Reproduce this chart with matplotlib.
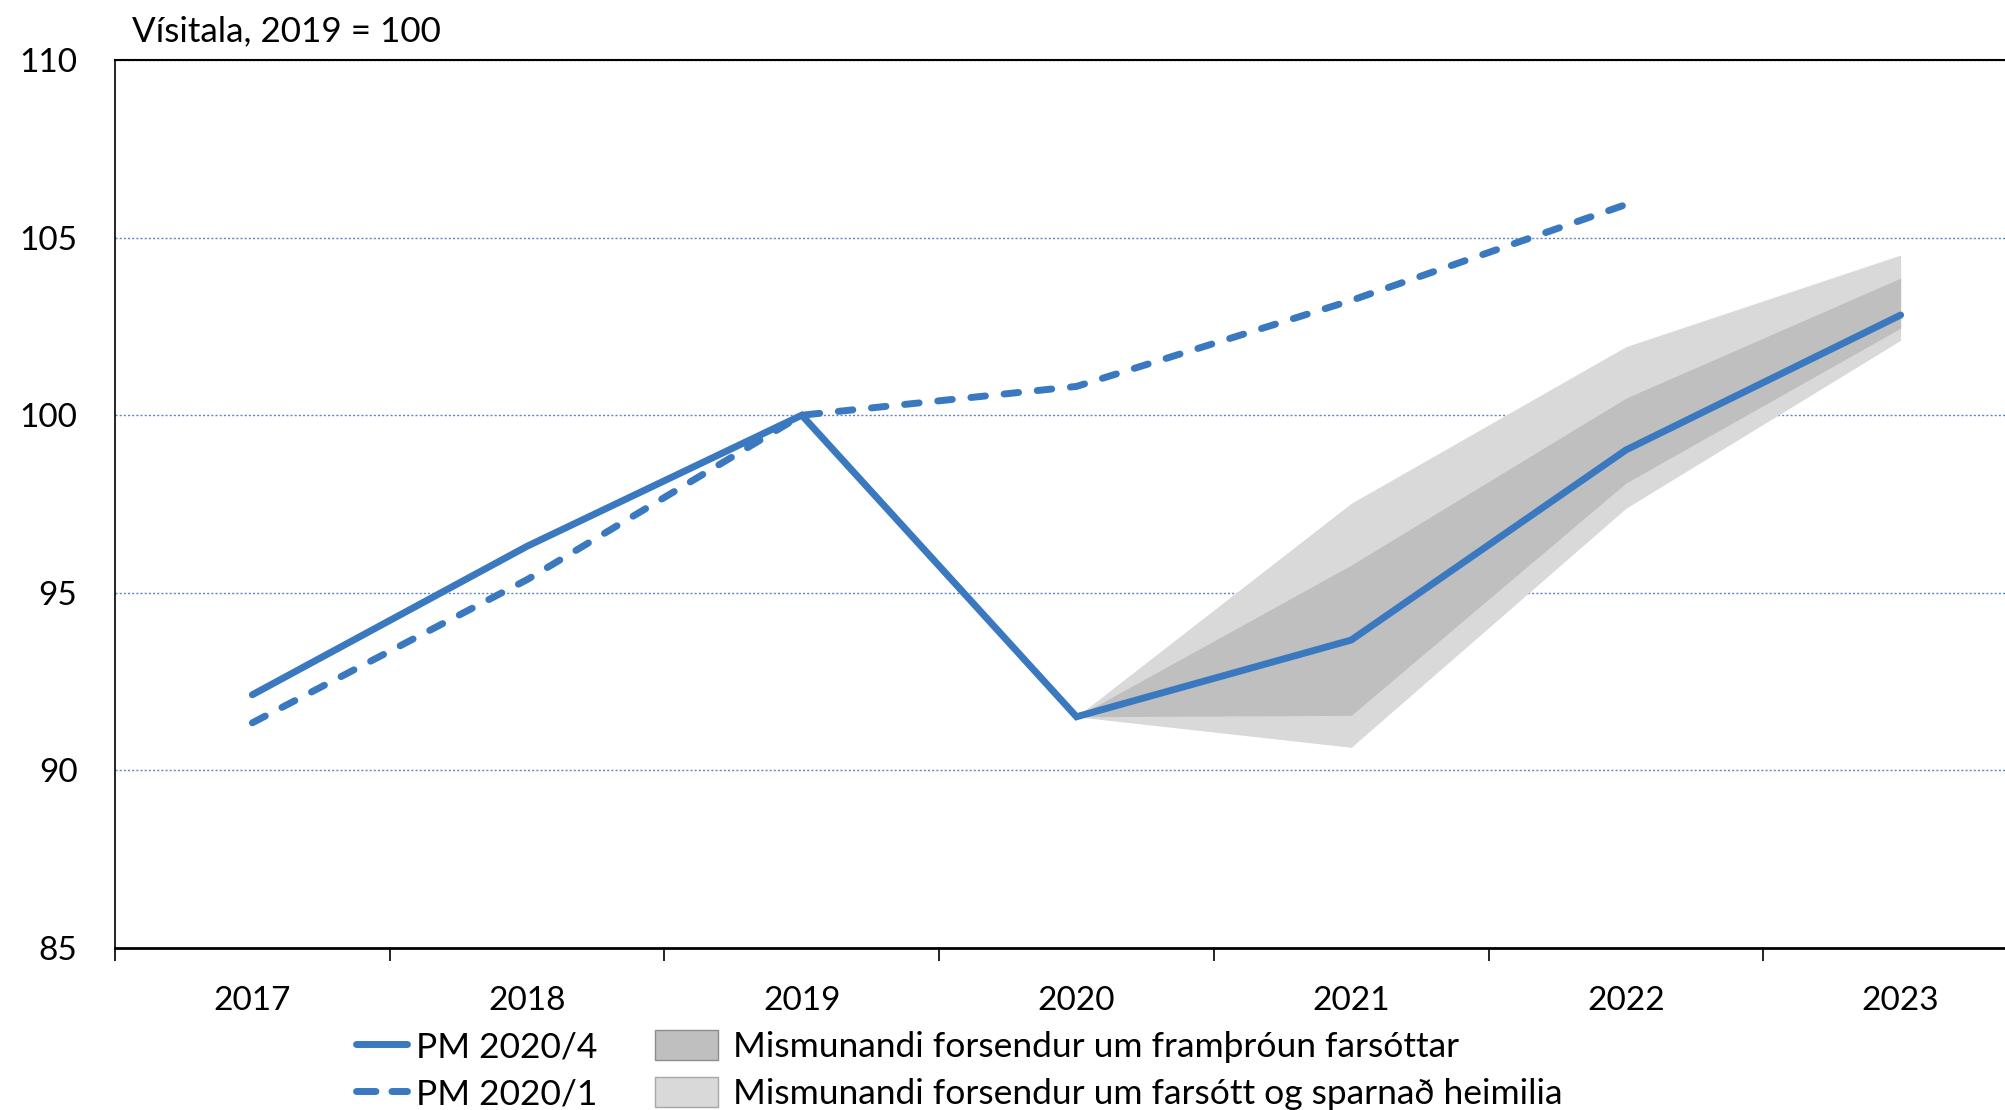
import matplotlib
matplotlib.use("Agg")
import matplotlib.pyplot as plt
from matplotlib.patches import Patch, Rectangle
from matplotlib.lines import Line2D
from matplotlib.legend_handler import HandlerLine2D, HandlerPatch
import numpy as np

plt.rcParams['font.family'] = ['Lato', 'DejaVu Sans']
plt.rcParams['lines.scale_dashes'] = False

years = ["2017", "2018", "2019", "2020", "2021", "2022", "2023"]
pm_2020_4 = [92.13, 96.31, 100.0, 91.51, 93.67, 99.02, 102.82]
pm_2020_1 = [91.34, 95.37, 100.0, 100.81, 103.23, 105.93]
band_years = ["2020", "2021", "2022", "2023"]
inner_low = [91.51, 91.55, 98.09, 102.45]
inner_high = [91.51, 95.78, 100.48, 103.86]
outer_low = [91.51, 90.65, 97.38, 102.11]
outer_high = [91.51, 97.52, 101.93, 104.51]

blue = "#3A78BF"
light = "#D9D9D9"
dark = "#BFBFBF"

W, H = 2006, 1110
fig = plt.figure(figsize=(W / 100, H / 100), dpi=100)
left, right, top, bottom = 115, 2038, 60, 948
ax = fig.add_axes([left / W, 1 - bottom / H, (right - left) / W, (bottom - top) / H])

x_all = np.arange(len(years))
xb = np.array([years.index(y) for y in band_years])

ax.fill_between(xb, outer_low, outer_high, color=light, linewidth=0, zorder=1)
ax.fill_between(xb, inner_low, inner_high, color=dark, linewidth=0, zorder=2)
ax.plot(x_all, pm_2020_4, color=blue, lw=5.0, solid_capstyle='round',
        solid_joinstyle='miter', zorder=4)
ax.plot(x_all[:len(pm_2020_1)], pm_2020_1, color=blue, lw=5.0,
        dashes=(10.5, 13.5), dash_capstyle='round', zorder=4)

ax.set_xlim(-0.5, len(years) - 0.5)
ax.set_ylim(85, 110)
ax.set_yticks([85, 90, 95, 100, 105, 110])
ax.set_yticklabels(["85", "90", "95", "100", "105", "110"])
ax.set_xticks(x_all)
ax.set_xticklabels(years)
ax.set_xticks(np.arange(len(years) + 1) - 0.5, minor=True)
ax.tick_params(axis='x', which='major', length=0, pad=27, labelsize=24)
ax.tick_params(axis='x', which='minor', length=9, width=1.2, direction='out')
ax.tick_params(axis='y', which='major', length=0, pad=27, labelsize=24)

ax.yaxis.grid(True, color="#5F86BF", linestyle=(0, (1.5, 1.5)), linewidth=1.0, zorder=0)
ax.set_axisbelow(True)
for s in ['top', 'bottom', 'left', 'right']:
    ax.spines[s].set_color('black')
ax.spines['top'].set_linewidth(1.5)
ax.spines['bottom'].set_linewidth(2.0)
ax.spines['left'].set_linewidth(1.2)
ax.spines['right'].set_visible(False)

fig.text(132 / W, 1 - 31 / H, "Vísitala, 2019 = 100", fontsize=25.2, va='center', ha='left')


class ShortLine(HandlerLine2D):
    def get_xdata(self, legend, xdescent, ydescent, width, height, fontsize):
        xd = np.array([-xdescent + 0.25 * width, -xdescent + 0.97 * width])
        return xd, np.array([-xdescent + 0.6 * width])


def narrow_patch(legend, orig_handle, xdescent, ydescent, width, height, fontsize):
    return Rectangle((-xdescent, -ydescent), width * 0.89, height)


handles = [
    Line2D([0], [0], color=blue, lw=5.0, solid_capstyle='round'),
    Line2D([0], [0], color=blue, lw=5.0, dashes=(14.0, 11.5), dash_capstyle='round'),
    Patch(facecolor=dark, edgecolor="#8C8C8C", linewidth=1.0),
    Patch(facecolor=light, edgecolor="#A6A6A6", linewidth=1.0),
]
labels = ["PM 2020/4", "PM 2020/1",
          "Mismunandi forsendur um framþróun farsóttar",
          "Mismunandi forsendur um farsótt og sparnað heimilia"]
hmap = {handles[0]: ShortLine(), handles[1]: ShortLine(),
        handles[2]: HandlerPatch(patch_func=narrow_patch),
        handles[3]: HandlerPatch(patch_func=narrow_patch)}
fig.legend(handles, labels, ncol=2, loc='upper left', handler_map=hmap,
           bbox_to_anchor=(338 / W, 1 - 1030 / H), frameon=False, fontsize=25.5,
           handlelength=2.0, handleheight=0.92, handletextpad=0.2,
           columnspacing=1.63, labelspacing=0.40, borderpad=0, borderaxespad=0)

fig.savefig("out.png", dpi=100)
